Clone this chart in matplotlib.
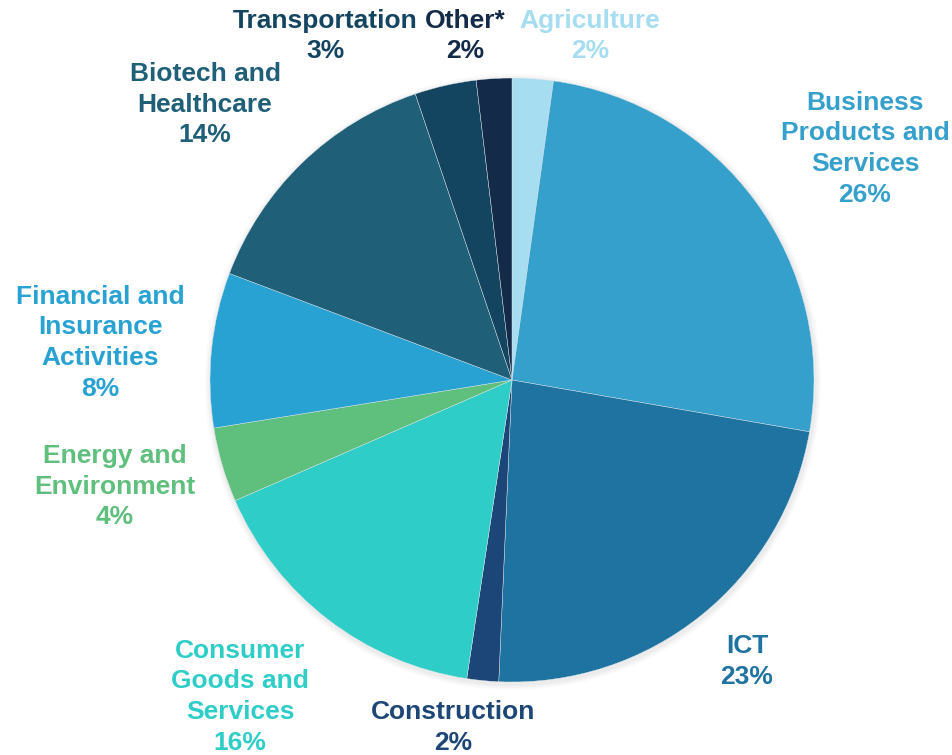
import matplotlib.pyplot as plt
from matplotlib.patches import Circle

plt.rcParams['font.family'] = ['Liberation Sans', 'DejaVu Sans']

# slice shares, clockwise from 12 o'clock
sectors = ['Agriculture', 'Business Products and Services', 'ICT', 'Construction',
           'Consumer Goods and Services', 'Energy and Environment',
           'Financial and Insurance Activities', 'Biotech and Healthcare',
           'Transportation', 'Other*']
shares = [2.2, 25.6, 23.0, 1.7, 16.1, 4.0, 8.3, 14.1, 3.3, 1.9]
pct_labels = ['2%', '26%', '23%', '2%', '16%', '4%', '8%', '14%', '3%', '2%']
label_lines = [['Agriculture'], ['Business', 'Products and', 'Services'], ['ICT'],
               ['Construction'], ['Consumer', 'Goods and', 'Services'],
               ['Energy and', 'Environment'], ['Financial and', 'Insurance', 'Activities'],
               ['Biotech and', 'Healthcare'], ['Transportation'], ['Other*']]
colors = ['#A6DDF0', '#35A0CC', '#1E73A0', '#1C4677', '#2ECDC8', '#5FBF7C',
          '#28A2D3', '#1F5F78', '#144560', '#132B48']

# label anchor (x, y of first line centre) in pixels from top-left
label_pos = [(590, 21), (865, 103), (747, 646), (453, 712), (240, 651),
             (115, 456), (100, 297), (205, 74), (325, 21), (465, 21)]
line_step = 30.5

W, H = 952, 755
fig = plt.figure(figsize=(W / 100, H / 100), dpi=100)
ax = fig.add_axes([0, 0, 1, 1])

cx, cy, r = 512, H - 380, 302

# soft shadow under the pie
for k, a in [(6, 0.04), (4, 0.05), (2, 0.06)]:
    ax.add_patch(Circle((cx + 1, cy - 2), r + k, color='#808080', alpha=a, lw=0, zorder=0))

ax.pie(shares, colors=colors, startangle=90, counterclock=False,
       center=(cx, cy), radius=r, frame=True,
       wedgeprops=dict(edgecolor='#dfe8ee', linewidth=0.3))
ax.set_xlim(0, W)
ax.set_ylim(0, H)
ax.set_aspect('equal')
ax.axis('off')

for lines, pct, (x, y), c in zip(label_lines, pct_labels, label_pos, colors):
    for i, s in enumerate(lines + [pct]):
        ax.text(x, H - (y + i * line_step), s, ha='center', va='center',
                fontsize=19, fontweight='bold', color=c)

fig.savefig('out.png', dpi=100)
